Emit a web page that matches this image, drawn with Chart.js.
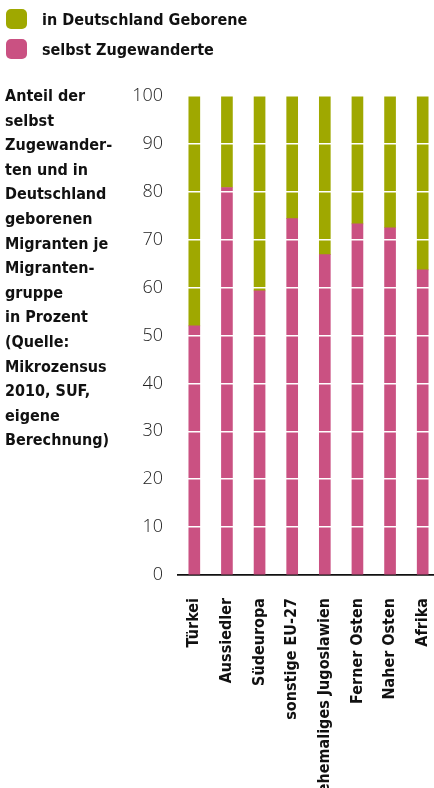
<!DOCTYPE html>
<html lang="de">
<head>
<meta charset="UTF-8">
<title>Migrantengruppen</title>
<script src="https://cdn.jsdelivr.net/npm/chart.js"></script>
<style>
    body { margin: 0; overflow: hidden; background: #fff; font-family: "Liberation Sans Narrow", "DejaVu Sans Condensed", sans-serif; }
    .legende { position: absolute; left: 6px; top: 4px; font-weight: bold; font-size: 16px; color: #111; }
    .legende div { height: 30px; display: flex; align-items: center; }
    .legende span { display: inline-block; width: 21px; height: 20px; border-radius: 5px; margin-right: 15px; }
    .beschreibung { position: absolute; left: 5px; top: 84px; width: 130px; font-weight: bold; font-size: 16px; line-height: 24.6px; color: #111; }
    #grafik { position: absolute; left: 0; top: 0; }
</style>
</head>
<body>

<canvas id="grafik" width="440" height="788"></canvas>

<div class="legende">
    <div><span style="background:#9fa800"></span>in Deutschland Geborene</div>
    <div><span style="background:#ca5182"></span>selbst Zugewanderte</div>
</div>

<div class="beschreibung">
    Anteil der<br>selbst<br>Zugewander-<br>ten und in<br>Deutschland<br>geborenen<br>Migranten je<br>Migranten-<br>gruppe<br>in Prozent<br>(Quelle:<br>Mikrozensus<br>2010, SUF,<br>eigene<br>Berechnung)
</div>

<script>
const gruppen = ['Türkei', 'Aussiedler', 'Südeuropa', 'sonstige EU-27', 'ehemaliges Jugoslawien', 'Ferner Osten', 'Naher Osten', 'Afrika'];
const zugewandert = [52.0, 80.9, 59.3, 74.4, 66.9, 73.3, 72.5, 63.7];
const geboren = [48.0, 19.1, 40.7, 25.6, 33.1, 26.7, 27.5, 36.3];
const yTicks = [0, 10, 20, 30, 40, 50, 60, 70, 80, 90, 100];

const schrift = '"Liberation Sans Narrow", "DejaVu Sans Condensed", sans-serif';

new Chart(document.getElementById('grafik'), {
    type: 'bar',
    data: {
        labels: gruppen,
        datasets: [
            { label: 'selbst Zugewanderte', data: zugewandert, backgroundColor: '#ca5182', barThickness: 11 },
            { label: 'in Deutschland Geborene', data: geboren, backgroundColor: '#9fa800', barThickness: 11 }
        ]
    },
    options: {
        responsive: false,
        animation: false,
        layout: { padding: { top: 96, right: 1, left: 0, bottom: 0 } },
        plugins: { legend: { display: false }, tooltip: { enabled: false } },
        scales: {
            x: {
                stacked: true,
                grid: { display: false },
                border: { display: true, color: '#111', width: 1.8 },
                ticks: {
                    color: '#111',
                    font: { family: schrift, size: 16, weight: 'bold' },
                    minRotation: 90,
                    maxRotation: 90,
                    autoSkip: false,
                    padding: 15
                },
                afterFit: (achse) => {
                    achse.height = 213;
                    achse.paddingLeft = 0;
                    achse.paddingRight = 0;
                }
            },
            y: {
                stacked: true,
                min: 0,
                max: 100,
                afterBuildTicks: (achse) => { achse.ticks = yTicks.map(v => ({ value: v })); },
                afterFit: (achse) => { achse.width = 178; },
                grid: {
                    color: (ctx) => ctx.tick && ctx.tick.value === 0 ? 'rgba(0,0,0,0)' : '#fff',
                    lineWidth: 1.5,
                    drawTicks: false,
                    z: 1
                },
                border: { display: false },
                ticks: {
                    color: '#222',
                    font: { family: '"Open Sans", sans-serif', size: 18, weight: '300' },
                    padding: 15
                }
            }
        }
    }
});
</script>
</body>
</html>
